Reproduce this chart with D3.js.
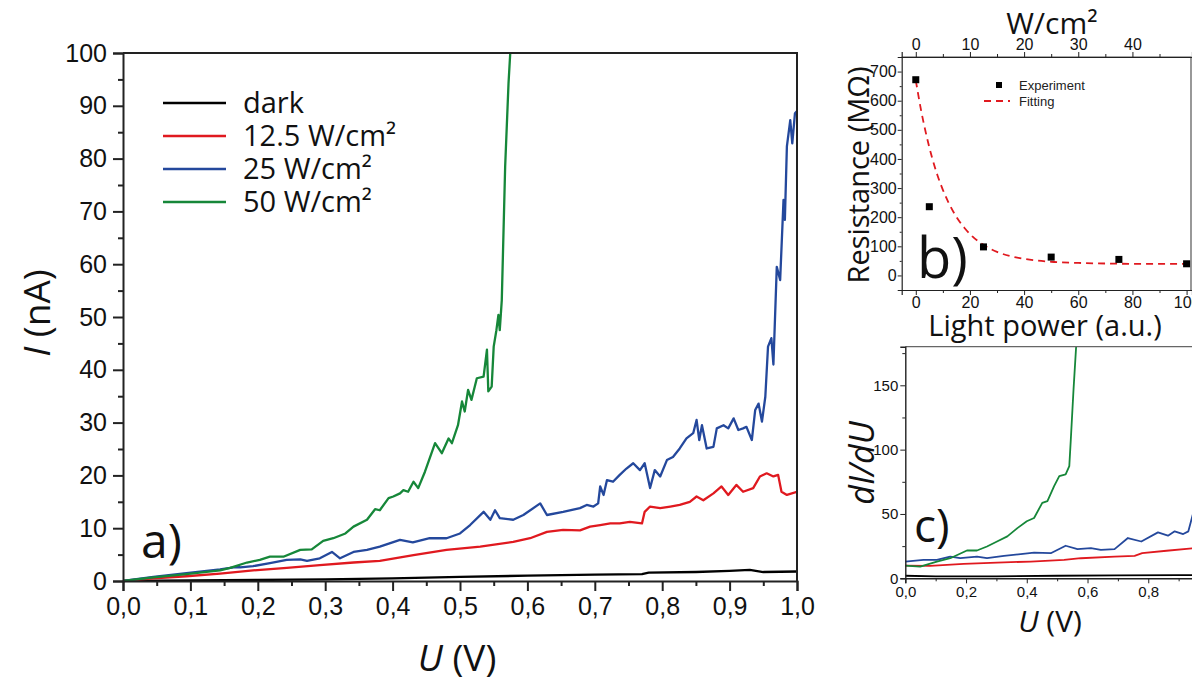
<!DOCTYPE html>
<html>
<head>
<meta charset="utf-8">
<script src="https://d3js.org/d3.v7.min.js"></script>
<style>
  body { margin: 0; background: #fff; }
  svg { display: block; }
  .tick text { font-family: "Liberation Sans", Arial, sans-serif; fill: #111; }
  .domain { stroke: #222; }
  .tick line { stroke: #222; }
</style>
</head>
<body>
<svg id="fig"></svg>
<script>
// ---- panel a: I(U) curves, [U (V), I (nA)] ----
const darkA = [[0,0],[.1,.1],[.2,.2],[.3,.3],[.4,.5],[.5,.8],[.6,1.0],[.7,1.2],[.77,1.3],[.78,1.6],[.85,1.7],[.9,1.9],[.93,2.1],[.95,1.7],[1.0,1.8]];
const red12A = [[0,0],[.045,.5],[.094,.9],[.144,1.4],[.193,2.0],[.243,2.5],[.292,3.0],[.342,3.5],[.381,3.8],[.431,4.9],[.48,5.9],[.53,6.5],[.579,7.4],[.604,8.1],[.629,9.3],[.653,9.7],[.678,9.6],[.693,10.3],[.708,10.6],[.723,10.9],[.737,10.9],[.752,11.2],[.770,10.9],[.774,13.1],[.782,14.1],[.797,13.8],[.812,14.1],[.826,14.4],[.841,15.0],[.851,16.0],[.861,15.3],[.876,16.6],[.888,17.9],[.898,16.3],[.910,18.2],[.920,16.9],[.935,17.6],[.945,19.8],[.955,20.4],[.965,19.8],[.972,20.1],[.977,16.9],[.985,16.3],[1.0,16.9]];
const blue25A = [[0,0],[.045,.8],[.094,1.5],[.144,2.2],[.164,2.6],[.174,2.6],[.193,2.8],[.218,3.4],[.243,4.0],[.263,4.1],[.273,3.8],[.292,4.3],[.310,5.5],[.322,4.3],[.342,5.5],[.362,5.9],[.381,6.5],[.411,7.8],[.43,7.3],[.455,8.1],[.48,8.1],[.5,9.0],[.515,10.6],[.535,13.1],[.545,11.6],[.552,13.4],[.559,11.9],[.579,11.6],[.594,12.5],[.619,14.7],[.629,12.5],[.653,13.1],[.678,13.8],[.688,14.4],[.698,14.1],[.705,14.7],[.708,17.9],[.713,16.3],[.718,19.1],[.727,18.8],[.737,20.1],[.747,21.3],[.757,22.3],[.767,21.0],[.774,22.3],[.782,17.6],[.789,21.0],[.797,19.8],[.807,22.9],[.816,23.5],[.826,25.1],[.836,27.0],[.846,28.0],[.851,30.5],[.855,26.7],[.859,29.5],[.866,25.1],[.876,25.4],[.881,28.9],[.891,29.5],[.898,28.9],[.906,30.8],[.913,28.6],[.920,28.9],[.925,29.2],[.933,26.7],[.938,32.4],[.943,33.6],[.948,30.2],[.953,34.9],[.957,44.4],[.962,46],[.965,41],[.970,59.5],[.975,57],[.980,72.2],[.982,68.4],[.985,82.3],[.990,87.3],[.993,82.9],[.997,88.6],[1.0,89]];
const green50A = [[0,0],[.045,.7],[.094,1.3],[.144,2.0],[.159,2.5],[.184,3.5],[.203,4.0],[.218,4.6],[.238,4.6],[.263,5.9],[.28,6.0],[.297,7.6],[.312,8.1],[.33,9.0],[.342,10.3],[.362,11.6],[.374,13.6],[.381,13.4],[.394,15.7],[.401,16.0],[.411,16.6],[.416,17.2],[.423,16.9],[.431,18.8],[.438,17.6],[.448,20.7],[.463,26.1],[.473,24.2],[.483,27.0],[.488,26.1],[.497,29.5],[.503,34.0],[.507,32.1],[.512,36.2],[.517,34.3],[.525,38.4],[.535,38.7],[.540,43.8],[.542,35.9],[.547,36.8],[.550,44.4],[.554,47.5],[.557,50.4],[.559,47.5],[.562,53.2],[.567,78.5],[.572,94.3],[.575,101]];
const legendLabels = ["dark", "12.5 W/cm²", "25 W/cm²", "50 W/cm²"];
const colors = ["#000000", "#e0191f", "#24489c", "#168739"];

// ---- panel b: resistance vs light power ----
const powerAU = [0, 5, 25, 50, 75, 100];
const resistance = [672, 236, 98, 63, 55, 40];
const fitAU = [0, 2, 4, 6, 8, 10, 12, 15, 18, 21, 25, 30, 35, 40, 50, 60, 70, 80, 100];
const fitR = [670, 565, 478, 405, 344, 294, 252, 201, 163, 133, 105, 81, 66, 57, 47, 43, 41, 40, 40];

// ---- panel c: dI/dU ----
const darkC = [[0,2],[.1,1.5],[.3,1.5],[.5,2],[.7,2.2],[.9,2.5],[.96,2.5]];
const red12C = [[0,9.9],[.082,9.6],[.192,11.2],[.302,12.2],[.413,13.0],[.523,14.3],[.578,15.6],[.689,16.9],[.755,17.4],[.78,19.5],[.86,21.4],[.96,23.6]];
const blue25C = [[0,13],[.06,14.3],[.104,14.3],[.148,16.9],[.181,15.6],[.236,16.9],[.269,15.6],[.325,17.4],[.38,18.8],[.424,20],[.479,19.5],[.528,25.3],[.567,22.7],[.611,23.4],[.644,22.1],[.689,22.7],[.733,31.3],[.777,28.6],[.832,35.7],[.865,33.1],[.887,36.5],[.915,34.4],[.932,36.5],[.948,50.8],[.96,60]];
const green50C = [[0,9.9],[.049,9.1],[.104,13],[.148,15.6],[.203,21.6],[.236,21.6],[.269,24.7],[.302,28.6],[.336,32.6],[.369,39],[.4,44.3],[.424,46.9],[.451,58.6],[.468,60],[.49,71.6],[.507,79.4],[.528,80.7],[.54,87.2],[.545,108],[.554,147],[.563,182]];

const W = 1192, H = 686;
const titleFont = "'Open Sans', sans-serif";
const comma = v => d3.format(".1f")(v).replace(".", ",");

const svg = d3.select("#fig").attr("width", W).attr("height", H);

function clipRect(id, x0, y0, x1, y1) {
  svg.append("clipPath").attr("id", id).append("rect")
    .attr("x", x0).attr("y", y0).attr("width", x1 - x0).attr("height", y1 - y0);
}

// ================= panel a =================
const ax = d3.scaleLinear().domain([0, 1]).range([123, 797]);
const ay = d3.scaleLinear().domain([0, 100]).range([581, 53]);
const ga = svg.append("g");

clipRect("clipA", 123, 53, 797, 581);
const lineA = d3.line().x(d => ax(d[0])).y(d => ay(d[1]));
[darkA, red12A, blue25A, green50A].forEach((s, i) => {
  ga.append("path").datum(s).attr("d", lineA).attr("clip-path", "url(#clipA)")
    .attr("fill", "none").attr("stroke", colors[i]).attr("stroke-width", 2.3)
    .attr("stroke-linejoin", "round");
});

// frame
ga.append("path").attr("d", `M${ax(0)},${ay(100)}H${ax(1)}V${ay(0)}`)
  .attr("fill", "none").attr("stroke", "#222").attr("stroke-width", 2);

const axA = ga.append("g").attr("transform", `translate(0,${ay(0)})`)
  .call(d3.axisBottom(ax).tickValues(d3.range(0, 1.01, 0.1)).tickSize(10).tickPadding(6).tickFormat(comma));
ga.append("g").attr("transform", `translate(0,${ay(0)})`)
  .call(d3.axisBottom(ax).tickValues(d3.range(0.05, 1, 0.1)).tickSize(5).tickFormat(""))
  .select(".domain").remove();
const ayA = ga.append("g").attr("transform", `translate(${ax(0)},0)`)
  .call(d3.axisLeft(ay).tickValues(d3.range(0, 101, 10)).tickSize(10).tickPadding(6));
ga.append("g").attr("transform", `translate(${ax(0)},0)`)
  .call(d3.axisLeft(ay).tickValues(d3.range(5, 100, 10)).tickSize(5).tickFormat(""))
  .select(".domain").remove();
ga.selectAll(".domain").attr("stroke-width", 2);
ga.selectAll(".tick line").attr("stroke-width", 2);
axA.selectAll(".tick text").attr("font-size", 25);
ayA.selectAll(".tick text").attr("font-size", 25);

// legend
legendLabels.forEach((lab, i) => {
  const y = 103 + i * 33;
  ga.append("line").attr("x1", 163).attr("x2", 226).attr("y1", y).attr("y2", y)
    .attr("stroke", colors[i]).attr("stroke-width", 2.5);
  ga.append("text").attr("x", 243).attr("y", y + 10).text(lab)
    .attr("font-family", titleFont).attr("font-size", 29).attr("fill", "#111");
});

ga.append("text").attr("x", 141).attr("y", 558).text("a)")
  .attr("font-family", titleFont).attr("font-size", 48).attr("fill", "#111");

const uA = ga.append("text").attr("x", 457).attr("y", 671).attr("text-anchor", "middle")
  .attr("font-family", titleFont).attr("font-size", 37).attr("fill", "#111");
uA.append("tspan").attr("font-style", "italic").text("U");
uA.append("tspan").text(" (V)");

const iA = ga.append("text").attr("transform", "translate(50,313) rotate(-90)")
  .attr("text-anchor", "middle").attr("font-family", titleFont).attr("font-size", 37).attr("fill", "#111");
iA.append("tspan").attr("font-style", "italic").text("I");
iA.append("tspan").text(" (nA)");

// ================= panel b =================
const bx = d3.scaleLinear().domain([-5.2, 102]).range([901.7, 1192]);
const bxTop = d3.scaleLinear().domain([-2.6, 51]).range([901.7, 1192]);
const by = d3.scaleLinear().domain([-50, 750]).range([290, 57]);
const gb = svg.append("g");

gb.append("path").attr("d", `M${bx.range()[0]},${by(750)}H1191V${by(-50)}`)
  .attr("fill", "none").attr("stroke", "#555").attr("stroke-width", 1.2);

const bBottom = gb.append("g").attr("transform", `translate(0,${by(-50)})`)
  .call(d3.axisBottom(bx).tickValues(d3.range(0, 101, 20)).tickSize(5).tickPadding(2));
gb.append("g").attr("transform", `translate(0,${by(-50)})`)
  .call(d3.axisBottom(bx).tickValues(d3.range(10, 100, 20)).tickSize(3).tickFormat(""))
  .select(".domain").remove();
const bTop = gb.append("g").attr("transform", `translate(0,${by(750)})`)
  .call(d3.axisTop(bxTop).tickValues(d3.range(0, 41, 10)).tickSize(5).tickPadding(2));
gb.append("g").attr("transform", `translate(0,${by(750)})`)
  .call(d3.axisTop(bxTop).tickValues(d3.range(5, 50, 10)).tickSize(3).tickFormat(""))
  .select(".domain").remove();
const bLeft = gb.append("g").attr("transform", `translate(${bx.range()[0]},0)`)
  .call(d3.axisLeft(by).tickValues(d3.range(0, 701, 100)).tickSize(4).tickPadding(1));
gb.append("g").attr("transform", `translate(${bx.range()[0]},0)`)
  .call(d3.axisLeft(by).tickValues(d3.range(50, 750, 100)).tickSize(2).tickFormat(""))
  .select(".domain").remove();
gb.selectAll(".domain").attr("stroke", "#555").attr("stroke-width", 1.2);
gb.selectAll(".tick line").attr("stroke", "#555");
gb.selectAll(".tick text").attr("font-size", 16).attr("fill", "#222");

gb.append("text").attr("x", 917).attr("y", 278).text("b)")
  .attr("font-family", titleFont).attr("font-size", 56).attr("fill", "#111");

// fit line and points
const fit = fitAU.map((x, i) => [x, fitR[i]]);
gb.append("path").datum(fit)
  .attr("d", d3.line().curve(d3.curveMonotoneX).x(d => bx(d[0])).y(d => by(d[1])))
  .attr("fill", "none").attr("stroke", "#e0191f").attr("stroke-width", 1.8)
  .attr("stroke-dasharray", "7,5");
gb.selectAll("rect.pt").data(powerAU.map((x, i) => [x, resistance[i]])).join("rect")
  .attr("class", "pt").attr("x", d => bx(d[0]) - 3.5).attr("y", d => by(d[1]) - 3.5)
  .attr("width", 7).attr("height", 7).attr("fill", "#000");

// legend b
gb.append("rect").attr("x", 996).attr("y", 82).attr("width", 6).attr("height", 6).attr("fill", "#000");
gb.append("text").attr("x", 1019).attr("y", 90).text("Experiment")
  .attr("font-family", "'Liberation Sans', Arial, sans-serif").attr("font-size", 13).attr("fill", "#222");
gb.append("line").attr("x1", 984).attr("x2", 1010).attr("y1", 101).attr("y2", 101)
  .attr("stroke", "#e0191f").attr("stroke-width", 1.8).attr("stroke-dasharray", "7,5");
gb.append("text").attr("x", 1019).attr("y", 106).text("Fitting")
  .attr("font-family", "'Liberation Sans', Arial, sans-serif").attr("font-size", 13).attr("fill", "#222");

gb.append("text").attr("x", 1052).attr("y", 34).attr("text-anchor", "middle").text("W/cm²")
  .attr("font-family", titleFont).attr("font-size", 30).attr("fill", "#111");
gb.append("text").attr("x", 1045).attr("y", 336).attr("text-anchor", "middle").text("Light power (a.u.)")
  .attr("font-family", titleFont).attr("font-size", 29).attr("fill", "#111");
gb.append("text").attr("transform", "translate(869,175) rotate(-90)").attr("text-anchor", "middle")
  .text("Resistance (MΩ)").attr("font-family", titleFont).attr("font-size", 29).attr("fill", "#111");

// ================= panel c =================
const cx = d3.scaleLinear().domain([0, 1]).range([905.3, 1209]);
const cy = d3.scaleLinear().domain([0, 180]).range([578.3, 346.7]);
const gc = svg.append("g");

clipRect("clipC", 905.3, 346.7, 1209, 578.3);
const lineC = d3.line().x(d => cx(d[0])).y(d => cy(d[1]));
[darkC, red12C, blue25C, green50C].forEach((s, i) => {
  gc.append("path").datum(s).attr("d", lineC).attr("clip-path", "url(#clipC)")
    .attr("fill", "none").attr("stroke", colors[i]).attr("stroke-width", 1.8)
    .attr("stroke-linejoin", "round");
});

gc.append("line").attr("x1", cx(0)).attr("x2", W).attr("y1", cy(180)).attr("y2", cy(180))
  .attr("stroke", "#666").attr("stroke-width", 1.2);

const cBottom = gc.append("g").attr("transform", `translate(0,${cy(0)})`)
  .call(d3.axisBottom(cx).tickValues(d3.range(0, 0.81, 0.2)).tickSize(5).tickPadding(3).tickFormat(comma));
gc.append("g").attr("transform", `translate(0,${cy(0)})`)
  .call(d3.axisBottom(cx).tickValues(d3.range(0.1, 1, 0.2)).tickSize(3).tickFormat(""))
  .select(".domain").remove();
const cLeft = gc.append("g").attr("transform", `translate(${cx(0)},0)`)
  .call(d3.axisLeft(cy).tickValues([0, 50, 100, 150]).tickSize(5).tickPadding(2));
gc.append("g").attr("transform", `translate(${cx(0)},0)`)
  .call(d3.axisLeft(cy).tickValues([25, 75, 125, 175]).tickSize(3).tickFormat(""))
  .select(".domain").remove();
gc.selectAll(".domain").attr("stroke", "#555").attr("stroke-width", 1.4);
gc.selectAll(".tick line").attr("stroke", "#555");
gc.selectAll(".tick text").attr("font-size", 15).attr("fill", "#222");

gc.append("text").attr("x", 914).attr("y", 542).text("c)")
  .attr("font-family", titleFont).attr("font-size", 46).attr("fill", "#111");

const uC = gc.append("text").attr("x", 1050).attr("y", 632).attr("text-anchor", "middle")
  .attr("font-family", titleFont).attr("font-size", 30).attr("fill", "#111");
uC.append("tspan").attr("font-style", "italic").text("U");
uC.append("tspan").text(" (V)");

gc.append("text").attr("transform", "translate(874,463) rotate(-90)").attr("text-anchor", "middle")
  .attr("font-family", titleFont).attr("font-size", 34).attr("font-style", "italic")
  .attr("fill", "#111").text("dI/dU");
</script>
</body>
</html>
